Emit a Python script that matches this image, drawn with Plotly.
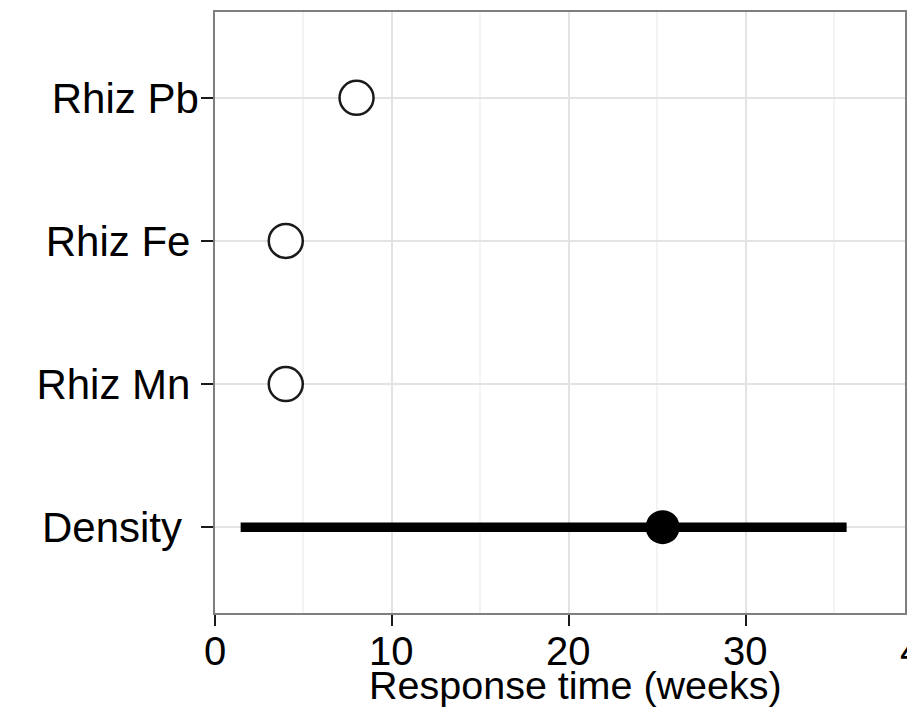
import plotly.graph_objects as go

categories = ["Density", "Rhiz Mn", "Rhiz Fe", "Rhiz Pb"]
tick_labels = ["Density\u2009\u2009", "Rhiz Mn\u2009", "Rhiz Fe\u2009", "Rhiz Pb"]
open_cats = ["Rhiz Mn", "Rhiz Fe", "Rhiz Pb"]
open_vals = [4, 4, 8]
density_est = [25.3]
density_low = [1.45]
density_high = [35.7]
x_ticks = [0, 10, 20, 30, 40]
x_minor = [5, 15, 25, 35]
x_title = "Response time (weeks)"

FONT = "Liberation Sans, Arial, Helvetica, sans-serif"
XMAX = 39.0
FS_Y = 42
FS_X = 40

fig = go.Figure()
fig.add_trace(go.Scatter(
    x=[density_low[0], density_high[0]], y=["Density", "Density"],
    mode="lines", line=dict(color="black", width=9.5), showlegend=False))
fig.add_trace(go.Scatter(
    x=density_est, y=["Density"], mode="markers",
    marker=dict(color="black", size=34, line=dict(width=0)), showlegend=False))
fig.add_trace(go.Scatter(
    x=open_vals, y=open_cats, mode="markers",
    marker=dict(color="white", size=34, line=dict(color="#1a1a1a", width=2.5)),
    showlegend=False))

fig.update_layout(
    width=907, height=712,
    margin=dict(l=215, r=0, t=12, b=99),
    plot_bgcolor="white", paper_bgcolor="white",
    font=dict(family=FONT, color="black", size=FS_X),
    xaxis=dict(
        range=[0, XMAX], tickvals=x_ticks[:-1], showticklabels=False,
        showgrid=True, gridcolor="#e3e3e3", gridwidth=1.5,
        minor=dict(tickvals=x_minor, ticks="", showgrid=True, gridcolor="#f3f3f3", gridwidth=1.5),
        showline=True, linecolor="#7f7f7f", linewidth=1.5, mirror=True,
        ticks="outside", ticklen=11, tickwidth=2.2, tickcolor="#1a1a1a",
        zeroline=False,
    ),
    yaxis=dict(
        type="category", categoryorder="array", categoryarray=categories,
        tickvals=categories, ticktext=tick_labels,
        range=[-0.6, 3.6],
        showgrid=True, gridcolor="#e3e3e3", gridwidth=1.5,
        showline=True, linecolor="#7f7f7f", linewidth=1.5, mirror=True,
        ticks="outside", ticklen=12, tickwidth=2, tickcolor="#1a1a1a",
        tickfont=dict(size=FS_Y, family=FONT, color="black"),
        ticklabelstandoff=-6,
        zeroline=False,
    ),
)
# x tick labels (the last one sits beyond the visible panel edge)
for v in x_ticks:
    fig.add_annotation(
        x=v / XMAX, xref="paper", y=0, yref="paper", yanchor="middle", yshift=-37.5,
        text=str(v), showarrow=False, xanchor="center",
        font=dict(size=FS_X, family=FONT, color="black"))
fig.add_annotation(
    x=0.523, xref="paper", y=0, yref="paper", yanchor="middle", yshift=-71.5,
    text=x_title, showarrow=False, xanchor="center",
    font=dict(size=39.5, family=FONT, color="black"))

fig.write_html("out.html")
